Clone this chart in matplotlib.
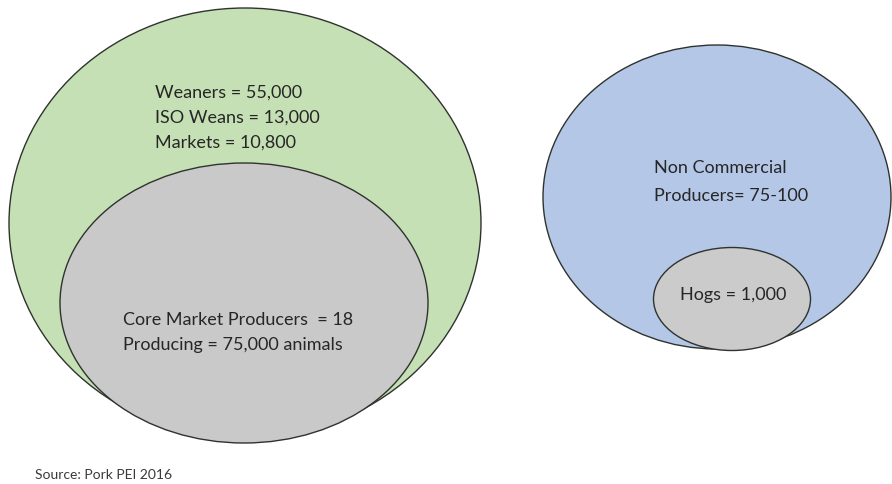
import matplotlib
matplotlib.use("Agg")
import matplotlib.pyplot as plt
from matplotlib.patches import Ellipse

plt.rcParams['font.family'] = ['Lato', 'DejaVu Sans']

# Text content
outer_left_labels = ["Weaners = 55,000", "ISO Weans = 13,000", "Markets = 10,800"]
inner_left_labels = ["Core Market Producers  = 18", "Producing = 75,000 animals"]
outer_right_labels = ["Non Commercial", "Producers= 75-100"]
inner_right_labels = ["Hogs = 1,000"]
source_text = "Source: Pork PEI 2016"

# Geometry (pixel space): center x, center y, width, height
ellipses = [
    (245, 224, 472, 430, '#c5e0b4'),
    (244, 304, 368, 280, '#c9c9c9'),
    (717, 198, 348, 304, '#b4c7e7'),
    (732, 300, 157, 103, '#cbcbcb'),
]

W, H = 892, 485
fig = plt.figure(figsize=(W / 100, H / 100), dpi=100)
ax = fig.add_axes([0, 0, 1, 1])
ax.set_xlim(0, W)
ax.set_ylim(H, 0)
ax.axis('off')

for cx, cy, w, h, c in ellipses:
    ax.add_patch(Ellipse((cx, cy), w, h, facecolor=c, edgecolor='#2e332e', linewidth=1.0))

tc = '#262626'
fs = 13
for i, t in enumerate(outer_left_labels):
    ax.text(155, 93 + i * 25, t, fontsize=fs, color=tc, ha='left', va='center')
for i, t in enumerate(inner_left_labels):
    ax.text(123, 320 + i * 25, t, fontsize=fs, color=tc, ha='left', va='center')
for i, t in enumerate(outer_right_labels):
    ax.text(654, 168 + i * 28, t, fontsize=fs, color=tc, ha='left', va='center')
for t in inner_right_labels:
    ax.text(680, 295, t, fontsize=fs, color=tc, ha='left', va='center')
ax.text(35, 475, source_text, fontsize=10, color='#3a3a3a', ha='left', va='center')

fig.savefig('out.png', dpi=100, facecolor='white')
